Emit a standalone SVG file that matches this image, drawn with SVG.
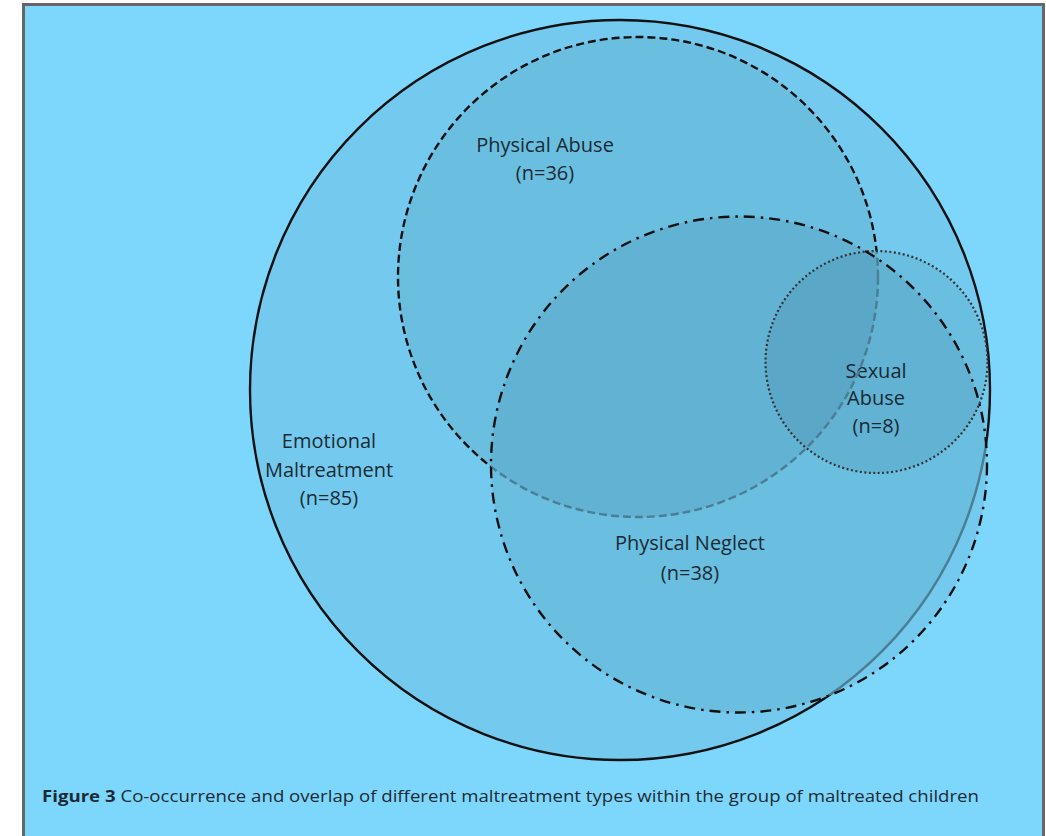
<svg xmlns="http://www.w3.org/2000/svg" width="1046" height="836" viewBox="0 0 1046 836">
  <style>
    .fill { fill: #00283c; fill-opacity: 0.075; stroke: none; }
    .edge { fill: none; stroke: #111; stroke-width: 2.4; }
    .under { stroke: #4b7d93; }
    .dash { stroke-dasharray: 8 4; }
    .dashdot { stroke-dasharray: 11 6 2.5 6; }
    .dot { stroke: #333; stroke-width: 2.2; stroke-dasharray: 2 2.5; }
    .lbl { font-family: "Open Sans", "Noto Sans", sans-serif; font-size: 20px; fill: #1c2b33; text-anchor: middle; }
    .cap { font-family: "Open Sans", "Noto Sans", sans-serif; font-size: 15.5px; fill: #1c2b33; }
  </style>
  <defs>
    <!-- inside / outside masks for the later sets -->
    <mask id="in-n" maskUnits="userSpaceOnUse" x="0" y="0" width="1046" height="836">
      <circle cx="739" cy="464.5" r="248" fill="#fff"/>
    </mask>
    <mask id="out-n" maskUnits="userSpaceOnUse" x="0" y="0" width="1046" height="836">
      <rect width="1046" height="836" fill="#fff"/>
      <circle cx="739" cy="464.5" r="248" fill="#000"/>
    </mask>
    <mask id="in-ns" maskUnits="userSpaceOnUse" x="0" y="0" width="1046" height="836">
      <circle cx="739" cy="464.5" r="248" fill="#fff"/>
      <circle cx="876.5" cy="362" r="111" fill="#fff"/>
    </mask>
    <mask id="out-ns" maskUnits="userSpaceOnUse" x="0" y="0" width="1046" height="836">
      <rect width="1046" height="836" fill="#fff"/>
      <circle cx="739" cy="464.5" r="248" fill="#000"/>
      <circle cx="876.5" cy="362" r="111" fill="#000"/>
    </mask>
  </defs>

  <!-- page panel -->
  <rect x="23.5" y="4.5" width="1020" height="840" fill="#7dd7fd" stroke="#666" stroke-width="3"/>

  <!-- set areas -->
  <g id="emotional-maltreatment">
    <circle class="fill" cx="620" cy="390" r="370"/>
    <text class="lbl" x="329" y="448">Emotional</text>
    <text class="lbl" x="329" y="477">Maltreatment</text>
    <text class="lbl" x="329" y="505">(n=85)</text>
  </g>

  <g id="physical-abuse">
    <circle class="fill" cx="638" cy="277" r="240"/>
    <text class="lbl" x="545" y="152">Physical Abuse</text>
    <text class="lbl" x="545" y="180">(n=36)</text>
  </g>

  <g id="sexual-abuse">
    <circle class="fill" cx="876.5" cy="362" r="111"/>
    <text class="lbl" x="876" y="378">Sexual</text>
    <text class="lbl" x="876" y="405">Abuse</text>
    <text class="lbl" x="876" y="433">(n=8)</text>
  </g>

  <g id="physical-neglect">
    <circle class="fill" cx="739" cy="464.5" r="248"/>
    <text class="lbl" x="690" y="550">Physical Neglect</text>
    <text class="lbl" x="690" y="580">(n=38)</text>
  </g>

  <!-- set outlines; parts lying under a later set are drawn muted -->
  <g id="connectors">
    <circle class="edge" cx="620" cy="390" r="370" mask="url(#out-n)"/>
    <circle class="edge under" cx="620" cy="390" r="370" mask="url(#in-n)"/>

    <circle class="edge dash" cx="638" cy="277" r="240" mask="url(#out-ns)"/>
    <circle class="edge dash under" cx="638" cy="277" r="240" mask="url(#in-ns)"/>

    <circle class="edge dot" cx="876.5" cy="362" r="111" mask="url(#out-n)"/>
    <circle class="edge dot under" cx="876.5" cy="362" r="111" mask="url(#in-n)"/>

    <circle class="edge dashdot" cx="739" cy="464.5" r="248"/>
  </g>

  <text class="cap" x="42" y="802" textLength="937" lengthAdjust="spacingAndGlyphs"><tspan font-weight="bold">Figure 3</tspan> Co-occurrence and overlap of different maltreatment types within the group of maltreated children</text>
</svg>
